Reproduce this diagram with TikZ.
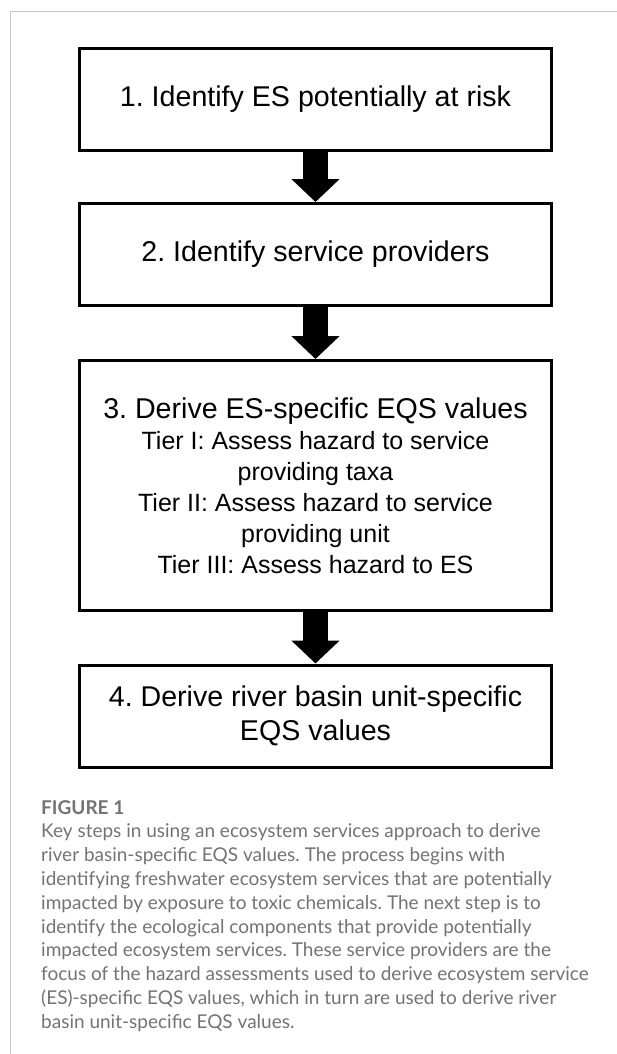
\documentclass[tikz,border=0pt]{standalone}
\usepackage{fontspec}
\setmainfont{Liberation Sans}
\newfontfamily\capfont{Lato}
\usetikzlibrary{arrows.meta}
\definecolor{capgray}{HTML}{737373}
\definecolor{framegray}{HTML}{C8C8C8}
\frenchspacing
\tikzset{
  stepbox/.style={draw, line width=3pt, minimum width=472pt, minimum height=102pt,
    inner sep=0pt, align=center, font=\fontsize{28.6}{34.3}\selectfont},
  tierfont/.style={font=\fontsize{25}{31}\selectfont},
  flow/.style={line width=25pt, -{Triangle[width=47pt, length=23pt]}},
}
\begin{document}
\begin{tikzpicture}[x=1pt, y=-1pt]
    % Page size and frame lines
    \useasboundingbox (0,0) rectangle (617,1054);
    \draw[framegray, line width=1pt] (10,1054) -- (10,12) -- (617,12);

    % Steps
    \node[stepbox] (s1) at (315.5, 99.5) {1. Identify ES potentially at risk};
    \node[stepbox] (s2) at (315.5, 254.5) {2. Identify service providers};
    \node[stepbox, tierfont, minimum height=250pt] (s3) at (315.5, 485.5)
        {{\fontsize{28.6}{31}\selectfont 3. Derive ES-specific EQS values}\\
         Tier I: Assess hazard to service\\ providing taxa\\
         Tier II: Assess hazard to service\\ providing unit\\
         Tier III: Assess hazard to ES};
    \node[stepbox] (s4) at (315.5, 716) {4. Derive river basin unit-specific\\ EQS values};

    % Arrows between steps
    \draw[flow] (s1) -- (s2);
    \draw[flow] (s2) -- (s3);
    \draw[flow] (s3) -- (s4);

    % Caption
    \node[anchor=north west, inner sep=0pt, align=left, text=capgray,
          font=\capfont\fontsize{19}{23.8}\selectfont] (cap) at (41, 800)
        {\textbf{FIGURE 1}\\
         Key steps in using an ecosystem services approach to derive\\
         river basin-specific EQS values. The process begins with\\
         identifying freshwater ecosystem services that are potentially\\
         impacted by exposure to toxic chemicals. The next step is to\\
         identify the ecological components that provide potentially\\
         impacted ecosystem services. These service providers are the\\
         focus of the hazard assessments used to derive ecosystem service\\
         (ES)-specific EQS values, which in turn are used to derive river\\
         basin unit-specific EQS values.};
\end{tikzpicture}
\end{document}
